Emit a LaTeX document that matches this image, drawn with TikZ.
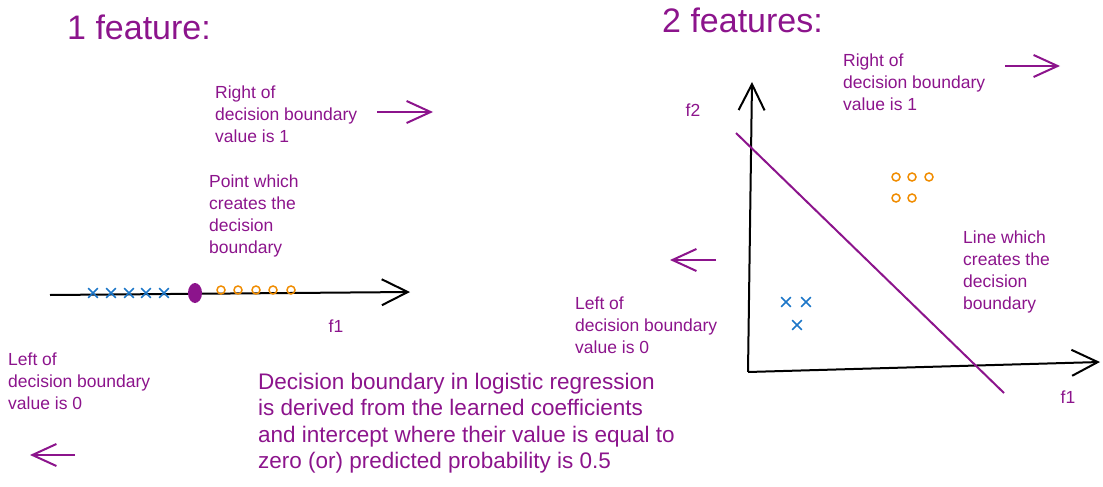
\documentclass[tikz,border=0pt]{standalone}
\usepackage{fontspec}
\setmainfont{Liberation Sans}
\usetikzlibrary{arrows.meta,shapes.geometric,shapes.misc}
\definecolor{inkpurple}{RGB}{140,20,140}
\definecolor{xblue}{RGB}{28,118,200}
\definecolor{oorange}{RGB}{240,140,0}

\begin{document}
\begin{tikzpicture}[x=1pt,y=-1pt,
    title/.style={text=inkpurple,font=\fontsize{34}{40}\selectfont,anchor=west,inner sep=0pt},
    note/.style={text=inkpurple,font=\fontsize{17.5}{22}\selectfont,align=left,anchor=west,inner sep=0pt},
    bignote/.style={text=inkpurple,font=\fontsize{22.5}{26.5}\selectfont,align=left,anchor=west,inner sep=0pt},
    axis/.style={line width=2pt,-{Straight Barb[length=26pt,width=26pt,line width=2pt]}},
    hint/.style={inkpurple,line width=2pt,-{Straight Barb[length=24pt,width=22pt,line width=2pt]}},
    xmark/.style={cross out,draw=xblue,line width=1.6pt,minimum size=8pt,inner sep=0pt},
    omark/.style={circle,draw=oorange,line width=1.5pt,minimum size=8pt,inner sep=0pt}]
    \useasboundingbox (0,0) rectangle (1103,487);

    % 1 feature
    \node[title] (title1) at (67,27) {1 feature:};
    \node[note] (right1) at (215,114) {Right of\\decision boundary\\value is 1};
    \node[note] (point1) at (209,216) {Point which\\creates the\\decision\\boundary};
    \node[note] (left1) at (8,381) {Left of\\decision boundary\\value is 0};
    \node[note,anchor=center] (f1a) at (336,326) {f1};

    \coordinate (ra1s) at (377,112);
    \coordinate (ra1e) at (433,112);
    \draw[hint] (ra1s) -- (ra1e);
    \coordinate (la1s) at (75,455);
    \coordinate (la1e) at (30,455);
    \draw[hint] (la1s) -- (la1e);

    \coordinate (ax1s) at (50,295);
    \coordinate (ax1e) at (410,292);
    \draw[axis] (ax1s) -- (ax1e);
    \foreach \x [count=\i] in {93,111,129,146,164}
        \node[xmark] (xa\i) at (\x,293) {};
    \foreach \x [count=\i] in {221,238,256,273,291}
        \node[omark] (oa\i) at (\x,290) {};
    \node[ellipse,fill=inkpurple,minimum width=14pt,minimum height=20pt,inner sep=0pt] (dot1) at (195,293) {};

    % summary
    \node[bignote] (summary) at (258,423) {Decision boundary in logistic regression\\is derived from the learned coefficients\\and intercept where their value is equal to\\zero (or) predicted probability is 0.5};

    % 2 features
    \node[title] (title2) at (662,20) {2 features:};
    \node[note] (right2) at (843,82) {Right of\\decision boundary\\value is 1};
    \node[note] (line2) at (963,272) {Line which\\creates the\\decision\\boundary};
    \node[note] (left2) at (575,325) {Left of\\decision boundary\\value is 0};
    \node[note,anchor=center] (f2b) at (693,110) {f2};
    \node[note,anchor=center] (f1b) at (1068,397) {f1};

    \coordinate (ra2s) at (1005,66);
    \coordinate (ra2e) at (1060,66);
    \draw[hint] (ra2s) -- (ra2e);
    \coordinate (la2s) at (716,260);
    \coordinate (la2e) at (670,260);
    \draw[hint] (la2s) -- (la2e);

    \coordinate (o2) at (748,372);
    \coordinate (ytop) at (752,82);
    \coordinate (xend) at (1100,362);
    \draw[axis] (o2) -- (ytop);
    \draw[axis] (o2) -- (xend);
    \coordinate (b2s) at (736,133);
    \coordinate (b2e) at (1004,393);
    \draw[inkpurple,line width=2pt] (b2s) -- (b2e);

    \foreach \x/\y [count=\i] in {896/177,912/177,929/177,896/198,912/198}
        \node[omark] (ob\i) at (\x,\y) {};
    \foreach \x/\y [count=\i] in {786/302,806/302,797/325}
        \node[xmark] (xb\i) at (\x,\y) {};
\end{tikzpicture}
\end{document}
